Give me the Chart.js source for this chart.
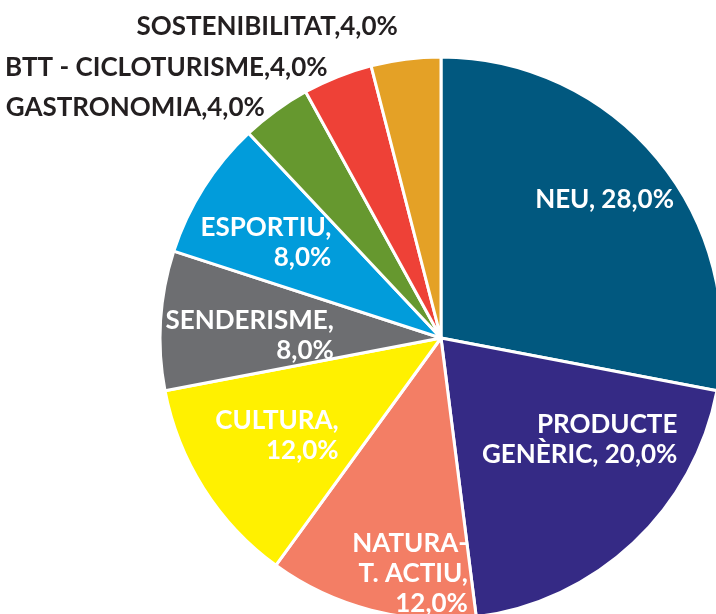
<!DOCTYPE html>
<html>
<head>
<meta charset="utf-8">
<script src="https://cdn.jsdelivr.net/npm/chart.js@4.4.1/dist/chart.umd.min.js"></script>
<style>
  html,body{margin:0;padding:0;background:#fff;overflow:hidden}
  #wrap{position:relative;width:716px;height:614px;overflow:hidden}
  #c{position:absolute;left:0;top:0}
</style>
</head>
<body>
<div id="wrap"><canvas id="c" width="900" height="720"></canvas></div>
<script>
// ── data ──
const categories = ['NEU','PRODUCTE GENÈRIC','NATURA-T. ACTIU','CULTURA','SENDERISME','ESPORTIU','GASTRONOMIA','BTT - CICLOTURISME','SOSTENIBILITAT'];
const shares = [28, 20, 12, 12, 8, 8, 4, 4, 4];
const sliceColors = ['#01587F','#352A85','#F37E65','#FFF100','#6D6E71','#019CDB','#66982F','#EE4137','#E4A126'];
// label text: '|' breaks the line, '%v' is the value
const labelFormat = ['NEU, %v','PRODUCTE|GENÈRIC, %v','NATURA-|T. ACTIU,|%v','CULTURA,|%v','SENDERISME,|%v','ESPORTIU,|%v','GASTRONOMIA,%v','BTT - CICLOTURISME,%v','SOSTENIBILITAT,%v'];
const labelOutside = [false,false,false,false,false,false,true,true,true];
const labelNudge = [[12,-14],[4,-43],[18,44],[2,-9],[5,9],[-9,9],[-11,-4],[-10,-10],[-8,-33]];

const fmtPct = v => v.toFixed(1).replace('.', ',') + '%';

const FONT = 'bold 26px Lato';
const CAP = 18.5, LH = 30, SX = 1.0;

const pieLabels = {
  id: 'pieLabels',
  afterDatasetsDraw(chart) {
    const ctx = chart.ctx;
    const meta = chart.getDatasetMeta(0);
    ctx.save();
    ctx.font = FONT;
    meta.data.forEach((arc, i) => {
      const p = arc.getProps(['x','y','startAngle','endAngle','outerRadius'], true);
      const mid = (p.startAngle + p.endAngle) / 2;
      const lines = labelFormat[i].replace('%v', fmtPct(shares[i])).split('|');
      const out = labelOutside[i];
      const r = out ? p.outerRadius : p.outerRadius * 0.7;
      const ax = p.x + Math.cos(mid) * r + labelNudge[i][0];
      const ay = p.y + Math.sin(mid) * r + labelNudge[i][1];
      const maxW = Math.max(...lines.map(l => ctx.measureText(l).width)) * SX;
      const right = out ? ax : ax + maxW / 2;
      ctx.fillStyle = out ? '#231F20' : '#FFFFFF';
      ctx.textAlign = 'right';
      ctx.textBaseline = 'alphabetic';
      lines.forEach((l, k) => {
        const by = ay - (lines.length - 1) * LH / 2 + k * LH + CAP / 2;
        ctx.save();
        ctx.translate(right, by);
        ctx.scale(SX, 1);
        ctx.fillText(l, 0, 0);
        ctx.restore();
      });
    });
    ctx.restore();
  }
};

new Chart(document.getElementById('c'), {
  type: 'pie',
  data: {
    labels: categories,
    datasets: [{
      data: shares,
      backgroundColor: sliceColors,
      borderColor: '#FFFFFF',
      borderWidth: 3
    }]
  },
  options: {
    responsive: false,
    devicePixelRatio: 1,
    animation: false,
    layout: { padding: { left: 158.5, top: 55.5, right: 176.5, bottom: 99.5 } },
    plugins: { legend: { display: false }, tooltip: { enabled: false } }
  },
  plugins: [pieLabels]
});
</script>
</body>
</html>
